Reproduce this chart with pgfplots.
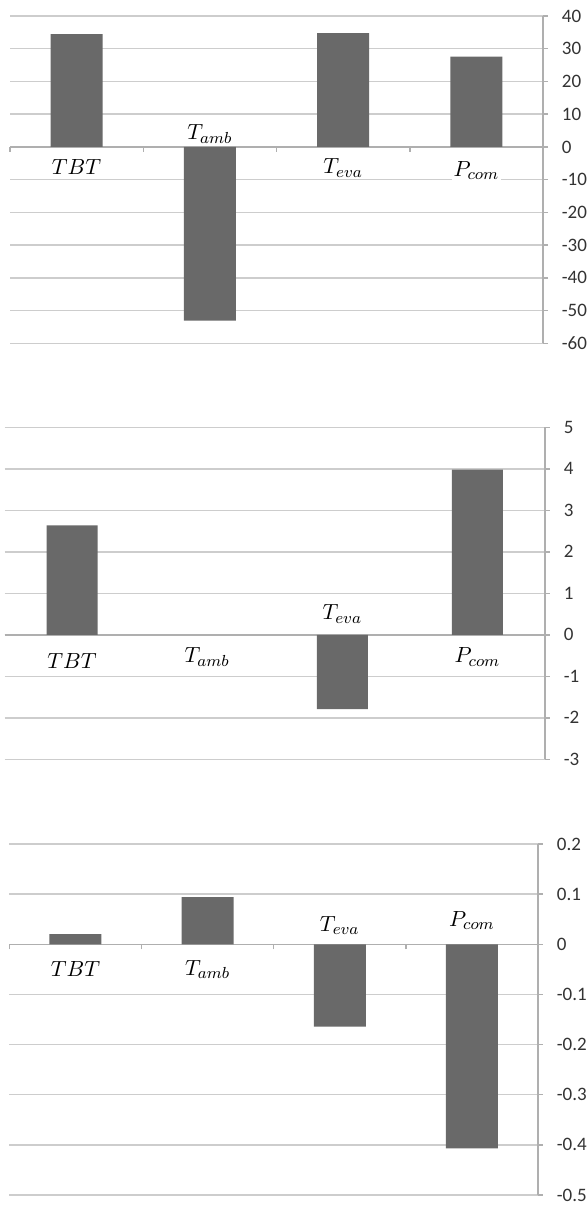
\documentclass[border=0pt]{standalone}
\usepackage{fontspec}
\setmainfont{Carlito}
\usepackage{pgfplots}
\pgfplotsset{compat=1.18}
\definecolor{barc}{RGB}{105,105,105}
\definecolor{gridc}{RGB}{205,205,205}
\definecolor{axc}{RGB}{175,175,175}
\tikzset{cat/.style={anchor=base, inner sep=0.8pt, font=\fontsize{11}{13}\selectfont}}
\pgfplotsset{
  panel/.style={
    scale only axis,
    anchor=south west,
    xmin=0.5, xmax=4.5,
    enlargelimits=false,
    axis y line*=right,
    axis x line*=middle,
    hide obscured y ticks=false,
    hide obscured x ticks=false,
    ymajorgrids,
    grid style={gridc, line width=0.75pt},
    axis line style={axc, line width=0.75pt},
    tick align=center,
    major tick length=2.5pt,
    ytick style={axc, line width=0.75pt, xshift=1.25pt},
    xtick style={axc, line width=0.75pt, yshift=-1.25pt},
    xtick={0.5,1.5,2.5,3.5},
    xticklabels={},
    yticklabel style={anchor=west, inner sep=0pt, xshift=8pt,
      font=\fontsize{9.5}{11}\selectfont, text=black!80},
    clip=false,
  },
}
\begin{document}
\begin{tikzpicture}
% Panel 1
\begin{axis}[panel, at={(5pt,-171.65pt)}, width=266.5pt, height=163.65pt,
  ymin=-60, ymax=40, ytick={-60,-50,...,40},
  yticklabels={-60,-50,-40,-30,-20,-10,0,10,20,30,40}]
\addplot[ybar, bar width=26pt, fill=barc, draw=none] coordinates {(1,34.5) (2,-53.1) (3,34.8) (4,27.6)};
\node[cat, fill=white] at (axis cs:1,0) [yshift=-14pt] {$TBT$};
\node[cat] at (axis cs:2,0) [yshift=3.5pt] {$T_{amb}$};
\node[cat, fill=white] at (axis cs:3,0) [yshift=-13.5pt] {$T_{eva}$};
\node[cat, fill=white] at (axis cs:4,0) [yshift=-14.8pt] {$P_{com}$};
\end{axis}
% Panel 2
\begin{axis}[panel, at={(2.25pt,-379.65pt)}, width=270.25pt, height=166pt,
  ymin=-3, ymax=5, ytick={-3,-2,...,5}, xtick=\empty,
  yticklabels={-3,-2,-1,0,1,2,3,4,5}]
\addplot[ybar, bar width=25.5pt, fill=barc, draw=none] coordinates {(1,2.64) (3,-1.79) (4,3.98)};
\node[cat, fill=white] at (axis cs:1,0) [yshift=-17pt] {$TBT$};
\node[cat, fill=white] at (axis cs:2,0) [yshift=-14pt] {$T_{amb}$};
\node[cat] at (axis cs:3,0) [yshift=7.5pt] {$T_{eva}$};
\node[cat, fill=white] at (axis cs:4,0) [yshift=-14pt] {$P_{com}$};
\end{axis}
% Panel 3
\begin{axis}[panel, at={(4.7pt,-597.5pt)}, width=264.3pt, height=175.5pt,
  ymin=-0.5, ymax=0.2, ytick={-0.5,-0.4,-0.3,-0.2,-0.1,0,0.1,0.2},
  yticklabels={-0.5,-0.4,-0.3,-0.2,-0.1,0,0.1,0.2}]
\addplot[ybar, bar width=26pt, fill=barc, draw=none] coordinates {(1,0.0205) (2,0.094) (3,-0.164) (4,-0.407)};
\node[cat, fill=white] at (axis cs:1,0) [yshift=-16pt] {$TBT$};
\node[cat, fill=white] at (axis cs:2,0) [yshift=-15.5pt] {$T_{amb}$};
\node[cat] at (axis cs:3,0) [yshift=6.3pt] {$T_{eva}$};
\node[cat] at (axis cs:4,0) [yshift=8.8pt] {$P_{com}$};
\end{axis}
\pgfresetboundingbox
\path[use as bounding box] (0,0) rectangle (293.5pt,-603pt);
\end{tikzpicture}
\end{document}
